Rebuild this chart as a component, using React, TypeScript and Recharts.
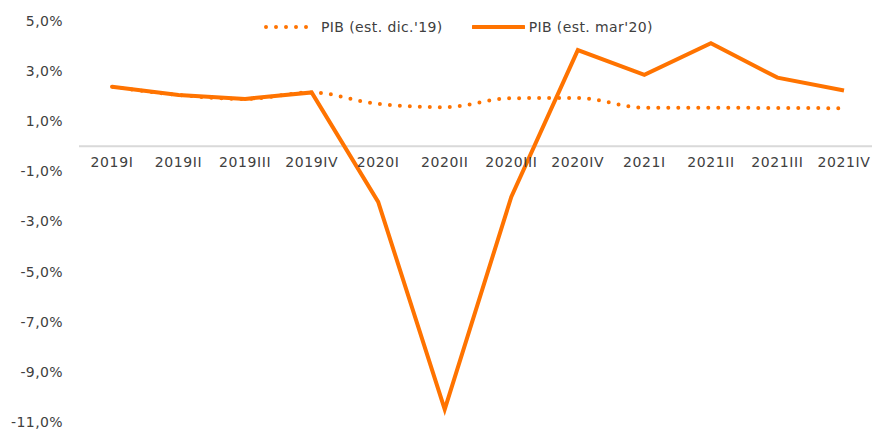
import { LineChart, Line, XAxis, YAxis, ReferenceLine, Legend } from 'recharts'

const quarters = [
  '2019I', '2019II', '2019III', '2019IV',
  '2020I', '2020II', '2020III', '2020IV',
  '2021I', '2021II', '2021III', '2021IV',
]

// PIB estimado en diciembre 2019 (%)
const pibDic19 = [2.38, 2.05, 1.89, 2.15, 1.69, 1.56, 1.92, 1.93, 1.54, 1.54, 1.53, 1.52]

// PIB estimado en marzo 2020 (%)
const pibMar20 = [2.38, 2.05, 1.89, 2.15, -2.22, -10.5, -2.02, 3.84, 2.85, 4.11, 2.74, 2.23]

const yTicks = [5, 3, 1, -1, -3, -5, -7, -9, -11]

const ORANGE = '#ff7300'
const TEXT = '#404040'
const FONT = '"DejaVu Sans", Verdana, sans-serif'

const CHART_W = 880
const CHART_H = 430
const MARGIN = { top: 21, right: 3, bottom: 7, left: 0 }
const X_AXIS_H = 1
const PLOT_H = CHART_H - MARGIN.top - MARGIN.bottom - X_AXIS_H
const Y_MAX = 5
const Y_MIN = -11
const ZERO_Y = MARGIN.top + (PLOT_H * Y_MAX) / (Y_MAX - Y_MIN)

const data = quarters.map((q, i) => ({
  quarter: q,
  dic19: pibDic19[i],
  mar20: pibMar20[i],
}))

const fmtPct = (v: number) => `${v.toFixed(1).replace('.', ',')}%`

// category labels sit just under the zero line, like the original
function QuarterTick(props: any) {
  const { x, payload } = props
  return (
    <text
      x={x}
      y={ZERO_Y + 21}
      textAnchor="middle"
      fill={TEXT}
      fontSize={14}
      fontFamily={FONT}
      letterSpacing={0.6}
    >
      {payload.value}
    </text>
  )
}

function ChartLegend() {
  const label = { fontSize: 14, color: TEXT, fontFamily: FONT, letterSpacing: 0.4 }
  return (
    <div style={{ display: 'flex', alignItems: 'center', whiteSpace: 'nowrap' }}>
      <svg width={46} height={10}>
        <line x1={2} y1={5} x2={44} y2={5} stroke={ORANGE} strokeWidth={4}
          strokeDasharray="0 10" strokeLinecap="round" />
      </svg>
      <span style={{ ...label, marginLeft: 11 }}>PIB (est. dic.'19)</span>
      <svg width={53} height={10} style={{ marginLeft: 29 }}>
        <line x1={1} y1={5} x2={52} y2={5} stroke={ORANGE} strokeWidth={4} strokeLinecap="round" />
      </svg>
      <span style={{ ...label, marginLeft: 4 }}>PIB (est. mar'20)</span>
    </div>
  )
}

export default function App() {
  return (
    <div style={{ position: 'absolute', left: 0, top: 0, width: 872, height: 430, overflow: 'hidden', background: '#fff' }}>
      <LineChart width={CHART_W} height={CHART_H} data={data} margin={MARGIN}>
        <XAxis
          dataKey="quarter"
          height={X_AXIS_H}
          axisLine={false}
          tickLine={false}
          interval={0}
          padding={{ left: 33, right: 33 }}
          tick={<QuarterTick />}
        />
        <YAxis
          width={79}
          domain={[Y_MIN, Y_MAX]}
          ticks={yTicks}
          tickFormatter={fmtPct}
          axisLine={false}
          tickLine={false}
          tickMargin={10}
          tick={{ fill: TEXT, fontSize: 14, fontFamily: FONT, letterSpacing: 0.4 }}
        />
        <ReferenceLine y={0} stroke="#d9d9d9" strokeWidth={2} />
        <Legend
          layout="horizontal"
          verticalAlign="middle"
          align="center"
          wrapperStyle={{ top: 19, left: 264, width: 'auto', height: 'auto' }}
          content={() => <ChartLegend />}
        />
        <Line
          type="monotone"
          dataKey="dic19"
          stroke={ORANGE}
          strokeWidth={4}
          strokeDasharray="0 10"
          strokeLinecap="round"
          dot={false}
          isAnimationActive={false}
        />
        <Line
          type="linear"
          dataKey="mar20"
          stroke={ORANGE}
          strokeWidth={4}
          dot={false}
          isAnimationActive={false}
        />
      </LineChart>
    </div>
  )
}
